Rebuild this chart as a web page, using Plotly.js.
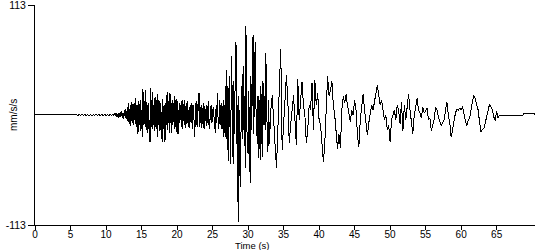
<!DOCTYPE html>
<html><head><meta charset="utf-8">
<script src="https://cdn.plot.ly/plotly-3.0.1.min.js"></script>
<style>
html,body{margin:0;padding:0;background:#fff}
#chart{width:550px;height:250px}
.js-line{shape-rendering:crispEdges}
</style>
</head><body><div id="chart"></div>
<script>
// pre-event: silent record
const silentTimes = [0, 4.8];
const silentValues = [0, 0];
// quiet background noise, 5.0 s .. 10.8 s every 0.2 s
const quietStart = 5.0, quietStep = 0.2;
const quietValues = [0.3,-0.3,0.4,-0.3,0.3,-0.4,0.3,-0.3,0.4,-0.3,
                     0.3,-0.3,0.4,-0.3,0.3,-0.4,0.3,-0.3,0.4,-0.3,
                     0.3,-0.4,0.3,-0.3,0.4,-0.3,0.3,-0.3,0.4,-0.3];
// strong motion, 11.0 s .. 33.0 s every 0.1 s
const denseStart = 11.0, denseStep = 0.1;
const denseValues = [
  0.5,-1,1.5,-1,2,-2,1,-2.5,2,-1.5,
  3,-2,4,-3,2,-4,5,-3,6,-4,
  8,-7,12,-9,10,-11,13,-8,11,-10,
  12,-9,17,-12,10,-19,14,-10,15,-16,
  5,-23,27,-10,14,-12,26,-15,10,-18,
  12,-20,-28,28,-12,24,-14,10,-16,18,
  -12,15,-23,22,-10,14,-16,12,-20,-28,
  16,-14,10,-28,12,-10,24,-15,14,-18,
  23,-12,-18,15,-10,12,-14,20,-12,16,
  -20,14,-19,12,-8,10,-12,15,-14,11,
  -10,15,-13,12,-9,14,-12,8,-13,10,
  -8,12,-14,10,-16,-23,12,-10,14,-12,
  18,23,-12,8,-13,10,-9,12,-14,9,
  -6,10,-11,8,14,-10,-14,9,-8,10,
  -7,8,-6,-12,-18,10,-8,23,-14,-12,
  15,-10,12,-14,9,-23,15,-18,30,-25,
  46,-20,-47,25,40,-50,20,61,-15,-50,
  35,-20,50,75,-30,10,-110,20,-40,-74,
  -20,30,-25,50,-15,20,-54,91,-10,-30,
  -40,25,-30,-70,40,-15,30,82,-20,40,
  75,10,-15,-30,20,-44,15,-46,30,-20,
  -43,35,-10,20,-15,64,10,-20,-38,15,
  -30];
// coda, 33.2 s .. 65.4 s every 0.2 s
const codaStart = 33.2, codaStep = 0.2;
const codaValues = [
  5,20,-10,-30,-54,  -10,28,68,-36,-5,
  10,41,15,-29,-10,  5,20,-5,-31,37,
  -5,15,34,10,0,     -29,-15,10,5,33,
  -15,36,10,23,-5,   -10,-30,-48,-30,5,
  40,20,25,35,10,    0,-15,-35,-20,-34,
  5,19,12,21,10,     3,-7,5,0,15,
  5,-20,-33,-5,12,   22,5,-10,-21,-8,
  0,10,5,15,20,      31,20,10,15,5,
  -5,0,-15,-10,-28,  -5,0,5,-5,10,
  5,-9,13,-16,10,    -5,8,22,5,-10,
  -19,0,8,17,5,      2,-3,8,2,5,
  7,-5,-3,-16,-10,   -5,8,5,-2,-8,
  -11,-8,-5,5,13,    0,-8,-23,-15,-5,
  2,6,5,7,5,         9,0,-6,-11,-5,
  -3,8,14,20,17,     10,5,-8,-17,-15,
  -14,-8,0,5,11,     8,5,-2,-6,4,
  -3,0];
// end of record
const tailTimes = [65.6, 68.7, 68.8, 70.3, 70.4];
const tailValues = [0, 0, 1.2, 1.2, 0];

const xTickVals = [0,5,10,15,20,25,30,35,40,45,50,55,60,65];
const yTickVals = [-113, 113];
const yTickText = ['-113', '113'];

const t = [], v = [];
silentTimes.forEach((s,i)=>{t.push(s); v.push(silentValues[i]);});
quietValues.forEach((val,i)=>{t.push(+(quietStart+i*quietStep).toFixed(2)); v.push(val);});
denseValues.forEach((val,i)=>{t.push(+(denseStart+i*denseStep).toFixed(2)); v.push(val);});
codaValues.forEach((val,i)=>{t.push(+(codaStart+i*codaStep).toFixed(2)); v.push(val);});
tailTimes.forEach((s,i)=>{t.push(s); v.push(tailValues[i]);});

const font = '"Liberation Sans", Arial, sans-serif';
Plotly.newPlot('chart', [{
  type:'scatter', mode:'lines', x:t, y:v,
  line:{color:'#000', width:1}, hoverinfo:'skip'
}], {
  width:550, height:250,
  margin:{l:35, r:15, t:5, b:25, pad:0, autoexpand:false},
  paper_bgcolor:'#fff', plot_bgcolor:'#fff', showlegend:false,
  font:{family:font, size:10, color:'#000'},
  xaxis:{range:[0,70.4], tickvals:xTickVals, ticks:'outside', ticklen:4, tickwidth:1, tickcolor:'#000',
         showline:true, linecolor:'#000', linewidth:1, showgrid:false, zeroline:false, automargin:false,
         ticklabelstandoff:-4, ticklabeloverflow:'allow',
         tickfont:{family:font, size:10, color:'#000'}},
  yaxis:{range:[-113,113], tickvals:yTickVals, ticktext:yTickText, ticks:'outside', ticklen:6, tickwidth:1, tickcolor:'#000',
         showline:true, linecolor:'#000', linewidth:1, showgrid:false, zeroline:false, automargin:false,
         ticklabeloverflow:'allow',
         tickfont:{family:font, size:10.5, color:'#000'}},
  annotations:[
    {text:'Time (s)', xref:'paper', yref:'paper', x:0.434, y:-0.092, xanchor:'center', yanchor:'middle', showarrow:false,
     font:{family:font, size:9.5, color:'#000'}},
    {text:'mm/s/s', xref:'paper', yref:'paper', x:-0.044, y:0.5, xanchor:'center', yanchor:'middle', textangle:-90, showarrow:false,
     font:{family:font, size:10, color:'#000'}}
  ]
}, {staticPlot:true, displayModeBar:false});
</script>
</body></html>
